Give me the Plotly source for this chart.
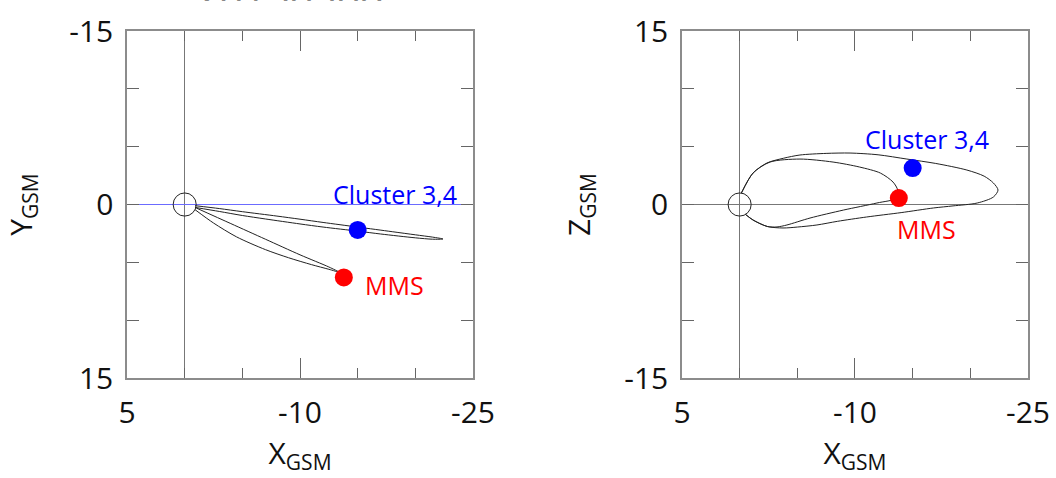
import plotly.graph_objects as go

# Field line traced through Cluster 3,4 (GSM, Re), projected to X-Y and X-Z
cluster_xy_x = [-0.9, -3, -5, -8, -10, -12, -15, -18, -20, -21.5, -22.4,
                -21.5, -20, -17, -15, -12, -10, -7, -5, -3, -0.9]
cluster_xy_y = [0.1, 0.35, 0.62, 1.0, 1.27, 1.55, 1.95, 2.35, 2.62, 2.82, 2.98,
                3.0, 2.88, 2.55, 2.3, 1.95, 1.68, 1.25, 0.95, 0.6, 0.25]

cluster_xz_x = [-0.15, -1.16, -2.37, -3.8, -5.23, -7.5, -9.57, -12, -14.5, -17, -19.7,
                -21.2, -22.0, -22.4, -22.0, -20.6, -18.5, -16.8, -14, -11.0, -8.5,
                -6.7, -5, -3.76, -2.4, -1.16, -0.5]
cluster_xz_z = [0.99, 2.72, 3.59, 4.0, 4.28, 4.42, 4.45, 4.3, 3.93, 3.55, 2.98,
                2.45, 1.86, 1.25, 0.65, 0.13, -0.12, -0.3, -0.7, -1.08, -1.45,
                -1.77, -1.95, -2.03, -1.9, -1.34, -0.85]

# Field line traced through MMS
mms_xy_x = [-0.9, -2.5, -4.5, -7, -9, -11, -12.5, -13.4, -12.5, -10, -7, -4, -1]
mms_xy_y = [0.45, 1.6, 2.8, 3.9, 4.6, 5.2, 5.6, 5.85, 5.4, 4.35, 3.0, 1.65, 0.3]

mms_xz_x = [-0.15, -1.16, -2.63, -5.23, -8.1, -10.4, -12.2, -13.3, -13.7, -13.6,
            -11.9, -9.0, -6.1, -4.1, -3.24, -2.4, -1.16, -0.5]
mms_xz_z = [0.99, 2.72, 3.67, 3.93, 3.67, 3.24, 2.72, 1.94, 1.25, 0.56,
            0.13, -0.48, -1.17, -1.77, -1.94, -1.9, -1.34, -0.85]

# Spacecraft positions
cluster_pos = {"x": -15.0, "y": 2.2, "z": 3.15}
mms_pos = {"x": -13.8, "y": 6.3, "z": 0.56}

# Axis ranges and labelled ticks
X_RANGE = [5, -25]
Y_RANGE = [15, -15]
Z_RANGE = [-15, 15]
X_TICKS = [5, -10, -25]
YZ_TICKS = [-15, 0, 15]
MINOR_STEP = 5

EARTH_RADIUS = 1.0
DATE_LABEL = "20150908"

BLUE = "#0000ff"
RED = "#ff0000"
FONT = "Open Sans"

fig = go.Figure()

line_style = dict(color="#222222", width=1, shape="spline", smoothing=0.8)

for xs, ys in [(cluster_xy_x, cluster_xy_y), (mms_xy_x, mms_xy_y)]:
    fig.add_trace(go.Scatter(x=xs, y=ys, mode="lines", line=line_style,
                             xaxis="x", yaxis="y", hoverinfo="skip"))
for xs, zs in [(cluster_xz_x, cluster_xz_z), (mms_xz_x, mms_xz_z)]:
    fig.add_trace(go.Scatter(x=xs, y=zs, mode="lines", line=line_style,
                             xaxis="x2", yaxis="y2", hoverinfo="skip"))

# spacecraft markers
for ax, key in [("", "y"), ("2", "z")]:
    fig.add_trace(go.Scatter(x=[cluster_pos["x"]], y=[cluster_pos[key]], mode="markers",
                             marker=dict(color=BLUE, size=18),
                             xaxis="x" + ax, yaxis="y" + ax))
    fig.add_trace(go.Scatter(x=[mms_pos["x"]], y=[mms_pos[key]], mode="markers",
                             marker=dict(color=RED, size=18),
                             xaxis="x" + ax, yaxis="y" + ax))

# Earth
shapes = []
for ax in ["", "2"]:
    shapes.append(dict(type="circle", xref="x" + ax, yref="y" + ax,
                       x0=-EARTH_RADIUS, x1=EARTH_RADIUS,
                       y0=-EARTH_RADIUS, y1=EARTH_RADIUS,
                       line=dict(color="#222222", width=1)))

label_font = dict(family=FONT, size=25)
annotations = [
    dict(text="Cluster 3,4", x=-18.2, y=-0.9, xref="x", yref="y", showarrow=False,
         font=dict(color=BLUE, **label_font)),
    dict(text="MMS", x=-18.2, y=7.0, xref="x", yref="y", showarrow=False,
         font=dict(color=RED, **label_font)),
    dict(text="Cluster 3,4", x=-16.2, y=5.7, xref="x2", yref="y2", showarrow=False,
         font=dict(color=BLUE, **label_font)),
    dict(text="MMS", x=-16.2, y=-2.1, xref="x2", yref="y2", showarrow=False,
         font=dict(color=RED, **label_font)),
    # date heading; the strip above it is blanked so only its foot shows
    dict(text=DATE_LABEL, x=0.275, y=0.949, xref="paper", yref="paper",
         xanchor="center", yanchor="bottom", showarrow=False,
         font=dict(family=FONT, size=41, color="#111111")),
    dict(text=" ", x=0.275, y=1.0, xref="paper", yref="paper",
         xanchor="center", yanchor="top", showarrow=False,
         width=420, height=10, borderpad=0, bgcolor="white",
         font=dict(family=FONT, size=4, color="white")),
]

tick_font = dict(family=FONT, size=30, color="#111111")
title_font = dict(family=FONT, size=30, color="#111111")


def tick_text(vals):
    return [str(v) for v in vals]


def x_axis(domain, anchor):
    return dict(domain=domain, anchor=anchor, range=X_RANGE, automargin=False,
                tickmode="array", tickvals=X_TICKS, ticktext=tick_text(X_TICKS),
                ticks="inside", ticklen=20, tickcolor="#666666", ticklabelstandoff=7,
                minor=dict(tickmode="linear", tick0=X_TICKS[0], dtick=MINOR_STEP,
                           ticks="inside", ticklen=10, tickcolor="#666666"),
                showline=True, linecolor="#8c8c8c", linewidth=1.5, mirror="allticks",
                showgrid=False, zeroline=True, zerolinecolor="#777777", zerolinewidth=1,
                tickfont=tick_font,
                title=dict(text="X<sub>GSM</sub>", font=title_font, standoff=0))


def y_axis(domain, anchor, rng, title, zerocolor, standoff):
    return dict(domain=domain, anchor=anchor, range=rng, automargin=False,
                tickmode="array", tickvals=YZ_TICKS, ticktext=tick_text(YZ_TICKS),
                ticks="inside", ticklen=12, tickcolor="#666666", ticklabelstandoff=6,
                minor=dict(tickmode="linear", tick0=YZ_TICKS[0], dtick=MINOR_STEP,
                           ticks="inside", ticklen=12, tickcolor="#666666"),
                showline=True, linecolor="#8c8c8c", linewidth=1.5, mirror="allticks",
                showgrid=False, zeroline=True, zerolinecolor=zerocolor, zerolinewidth=1,
                tickfont=tick_font,
                title=dict(text=title, font=title_font, standoff=standoff))


Y_DOM = [0.2092, 0.9351]
fig.update_layout(
    width=1056, height=478,
    margin=dict(l=0, r=0, t=0, b=0, autoexpand=False),
    paper_bgcolor="white", plot_bgcolor="white",
    showlegend=False,
    xaxis=x_axis([0.1203, 0.4479], "y"),
    yaxis=y_axis(Y_DOM, "x", Y_RANGE, "Y<sub>GSM</sub>", "#6b6bff", 28),
    xaxis2=x_axis([0.6458, 0.9735], "y2"),
    yaxis2=y_axis(Y_DOM, "x2", Z_RANGE, "Z<sub>GSM</sub>", "#777777", 25),
    shapes=shapes,
    annotations=annotations,
)

fig.write_html("out.html")
